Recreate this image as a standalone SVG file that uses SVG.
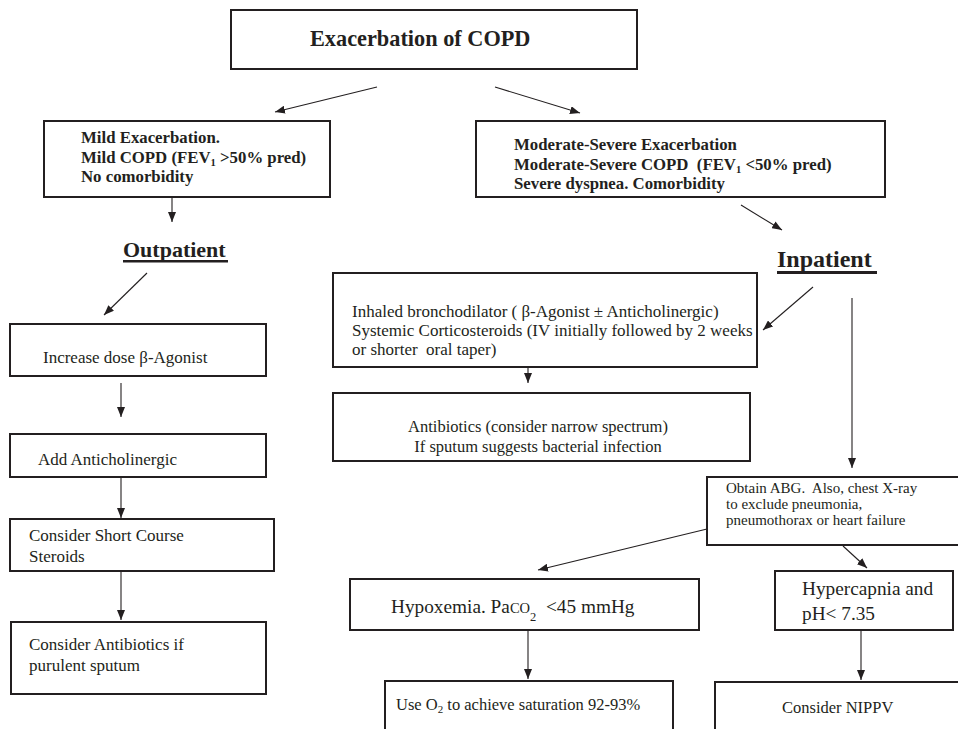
<svg xmlns="http://www.w3.org/2000/svg" width="958" height="729" viewBox="0 0 958 729">
<defs>
<marker id="ah" markerUnits="userSpaceOnUse" markerWidth="10" markerHeight="8" refX="10" refY="4" orient="auto">
<path d="M0,0 L10,4 L0,8 z" fill="#231f20"/>
</marker>
<style>
.box{fill:#fff;stroke:#231f20;stroke-width:2}
.t{font-family:"Liberation Serif","Times New Roman",serif;fill:#231f20}
.b{font-weight:bold}
.c{stroke:#231f20;stroke-width:1.1;fill:none;marker-end:url(#ah)}
</style>
</defs>
<rect width="958" height="729" fill="#fff"/>
<g id="connectors">
<line class="c" x1="377" y1="87" x2="275" y2="112"/>
<line class="c" x1="495" y1="87" x2="580" y2="113"/>
<line class="c" x1="172" y1="197" x2="172" y2="222"/>
<line class="c" x1="741" y1="205" x2="782" y2="230"/>
<line class="c" x1="147" y1="273" x2="104" y2="315"/>
<line class="c" x1="121" y1="383" x2="121" y2="417"/>
<line class="c" x1="121" y1="477" x2="121" y2="518"/>
<line class="c" x1="121" y1="571" x2="121" y2="620"/>
<line class="c" x1="813" y1="287" x2="763" y2="330"/>
<line class="c" x1="528" y1="367" x2="528" y2="383"/>
<line class="c" x1="852" y1="298" x2="852" y2="468"/>
<line class="c" x1="707" y1="529" x2="538" y2="570"/>
<line class="c" x1="843" y1="546" x2="867" y2="568"/>
<line class="c" x1="528" y1="630" x2="528" y2="679"/>
<line class="c" x1="861" y1="630" x2="861" y2="680"/>
</g>
<g id="exacerbation">
<rect class="box" x="231" y="10" width="406" height="59"/>
<text class="t b" x="310" y="46" font-size="22.3">Exacerbation of COPD</text>
</g>
<g id="mild">
<rect class="box" x="44" y="121" width="286" height="76"/>
<text class="t b" x="81" y="143" font-size="16.8">Mild Exacerbation.</text>
<text class="t b" x="81" y="163" font-size="16.8">Mild COPD (FEV<tspan font-size="10.5" dy="3">1</tspan><tspan dy="-3"> &gt;50% pred)</tspan></text>
<text class="t b" x="81" y="182" font-size="16.8">No comorbidity</text>
</g>
<g id="moderate">
<rect class="box" x="476" y="121" width="409" height="76"/>
<text class="t b" x="514" y="150" font-size="16.8">Moderate-Severe Exacerbation</text>
<text class="t b" x="514" y="170" font-size="16.8" xml:space="preserve">Moderate-Severe COPD  (FEV<tspan font-size="10.5" dy="3">1</tspan><tspan dy="-3"> &lt;50% pred)</tspan></text>
<text class="t b" x="514" y="189" font-size="16.8">Severe dyspnea. Comorbidity</text>
</g>
<g id="outpatient">
<text class="t b" x="123" y="257" font-size="22">Outpatient</text>
<rect x="123" y="260" width="105" height="2.5" fill="#231f20"/>
</g>
<g id="inpatient">
<text class="t b" x="777" y="267" font-size="24">Inpatient</text>
<rect x="777" y="271" width="100" height="3" fill="#231f20"/>
</g>
<g id="increase">
<rect class="box" x="10" y="324" width="256" height="52"/>
<text class="t" x="43" y="363" font-size="17">Increase dose β-Agonist</text>
</g>
<g id="anticholinergic">
<rect class="box" x="10" y="434" width="256" height="43"/>
<text class="t" x="38" y="465" font-size="17">Add Anticholinergic</text>
</g>
<g id="steroids">
<rect class="box" x="10" y="519" width="264" height="52"/>
<text class="t" x="29" y="541" font-size="17">Consider Short Course</text>
<text class="t" x="29" y="562" font-size="17">Steroids</text>
</g>
<g id="antibiotics-left">
<rect class="box" x="11" y="622" width="255" height="72"/>
<text class="t" x="29" y="650" font-size="17">Consider Antibiotics if</text>
<text class="t" x="29" y="671" font-size="17">purulent sputum</text>
</g>
<g id="inhaled">
<rect class="box" x="333" y="273" width="424" height="94"/>
<text class="t" x="352" y="317" font-size="17" xml:space="preserve">Inhaled bronchodilator ( β-Agonist ± Anticholinergic)</text>
<text class="t" x="352" y="336" font-size="17">Systemic Corticosteroids (IV initially followed by 2 weeks</text>
<text class="t" x="352" y="355" font-size="17" xml:space="preserve">or shorter  oral taper)</text>
</g>
<g id="antibiotics">
<rect class="box" x="333" y="393" width="417" height="68"/>
<text class="t" x="538" y="432" font-size="16.5" text-anchor="middle">Antibiotics (consider narrow spectrum)</text>
<text class="t" x="538" y="452" font-size="16.5" text-anchor="middle">If sputum suggests bacterial infection</text>
</g>
<g id="abg">
<rect class="box" x="707" y="477" width="260" height="68"/>
<text class="t" x="726" y="493" font-size="15" xml:space="preserve">Obtain ABG.  Also, chest X-ray</text>
<text class="t" x="726" y="509" font-size="15">to exclude pneumonia,</text>
<text class="t" x="726" y="525" font-size="15">pneumothorax or heart failure</text>
</g>
<g id="hypoxemia">
<rect class="box" x="350" y="579" width="349" height="51"/>
<text class="t" x="391" y="613" font-size="19.3" xml:space="preserve">Hypoxemia. Pa<tspan font-size="14.5">CO</tspan><tspan font-size="12.5" dy="8">2</tspan><tspan dy="-8">  &lt;45 mmHg</tspan></text>
</g>
<g id="hypercapnia">
<rect class="box" x="775" y="571" width="178" height="59"/>
<text class="t" x="802" y="595" font-size="19.3">Hypercapnia and</text>
<text class="t" x="802" y="620" font-size="19.3">pH&lt; 7.35</text>
</g>
<g id="oxygen">
<rect class="box" x="385" y="681" width="288" height="60"/>
<text class="t" x="396" y="710" font-size="16.5">Use O<tspan font-size="11" dy="3">2</tspan><tspan dy="-3"> to achieve saturation 92-93%</tspan></text>
</g>
<g id="nippv">
<rect class="box" x="715" y="682" width="260" height="60"/>
<text class="t" x="782" y="713" font-size="16.5">Consider NIPPV</text>
</g>
</svg>
